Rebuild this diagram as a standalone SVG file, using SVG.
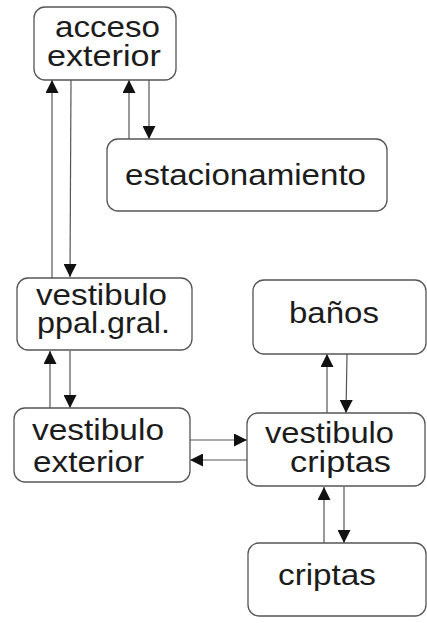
<svg xmlns="http://www.w3.org/2000/svg" width="427" height="623" viewBox="0 0 427 623">
<style>
.box{fill:#fff;stroke:#555;stroke-width:1.3}
.t{font-family:"Liberation Sans",Arial,sans-serif;font-size:30px;fill:#1c1c1c}
.c{stroke:#555;stroke-width:1.2;fill:none}
</style>
<defs>
<marker id="ah" viewBox="0 0 13 13" refX="13" refY="6.5" markerWidth="13" markerHeight="13" markerUnits="userSpaceOnUse" orient="auto">
<path d="M0,0 L13,6.5 L0,13 Z" fill="#111"/>
</marker>
</defs>
<rect width="427" height="623" fill="#fff"/>
<g id="connectors">
<line class="c" x1="52" y1="278" x2="52" y2="80" marker-end="url(#ah)"/>
<line class="c" x1="71" y1="80" x2="70" y2="277" marker-end="url(#ah)"/>
<line class="c" x1="129" y1="139" x2="129" y2="80" marker-end="url(#ah)"/>
<line class="c" x1="149" y1="80" x2="149" y2="139" marker-end="url(#ah)"/>
<line class="c" x1="50" y1="408" x2="50" y2="351" marker-end="url(#ah)"/>
<line class="c" x1="70" y1="351" x2="70" y2="408" marker-end="url(#ah)"/>
<line class="c" x1="190" y1="440" x2="247" y2="440" marker-end="url(#ah)"/>
<line class="c" x1="247" y1="460" x2="190" y2="460" marker-end="url(#ah)"/>
<line class="c" x1="327" y1="413" x2="327" y2="354" marker-end="url(#ah)"/>
<line class="c" x1="347" y1="354" x2="346" y2="413" marker-end="url(#ah)"/>
<line class="c" x1="324" y1="543" x2="324" y2="487" marker-end="url(#ah)"/>
<line class="c" x1="344" y1="487" x2="344" y2="543" marker-end="url(#ah)"/>
</g>
<g id="acceso">
<rect class="box" x="34" y="7" width="142" height="73" rx="11"/>
<text class="t" x="55" y="37" textLength="105" lengthAdjust="spacingAndGlyphs">acceso</text>
<text class="t" x="47" y="66" textLength="114" lengthAdjust="spacingAndGlyphs">exterior</text>
</g>
<g id="estacionamiento">
<rect class="box" x="107" y="139" width="280" height="72" rx="11"/>
<text class="t" x="125" y="185" textLength="241" lengthAdjust="spacingAndGlyphs">estacionamiento</text>
</g>
<g id="vestibulo-ppal">
<rect class="box" x="17" y="278" width="175" height="72" rx="11"/>
<text class="t" x="36" y="305" textLength="131" lengthAdjust="spacingAndGlyphs">vestibulo</text>
<text class="t" x="37" y="333" textLength="133" lengthAdjust="spacingAndGlyphs">ppal.gral.</text>
</g>
<g id="banos">
<rect class="box" x="253" y="280" width="173" height="74" rx="11"/>
<text class="t" x="289" y="323" textLength="90" lengthAdjust="spacingAndGlyphs">baños</text>
</g>
<g id="vestibulo-exterior">
<rect class="box" x="14" y="408" width="176" height="74" rx="11"/>
<text class="t" x="32" y="440" textLength="132" lengthAdjust="spacingAndGlyphs">vestibulo</text>
<text class="t" x="33" y="472" textLength="111" lengthAdjust="spacingAndGlyphs">exterior</text>
</g>
<g id="vestibulo-criptas">
<rect class="box" x="247" y="413" width="178" height="73" rx="11"/>
<text class="t" x="265" y="443" textLength="129" lengthAdjust="spacingAndGlyphs">vestibulo</text>
<text class="t" x="290" y="472" textLength="101" lengthAdjust="spacingAndGlyphs">criptas</text>
</g>
<g id="criptas">
<rect class="box" x="248" y="543" width="178" height="73" rx="11"/>
<text class="t" x="278" y="585" textLength="98" lengthAdjust="spacingAndGlyphs">criptas</text>
</g>
</svg>
